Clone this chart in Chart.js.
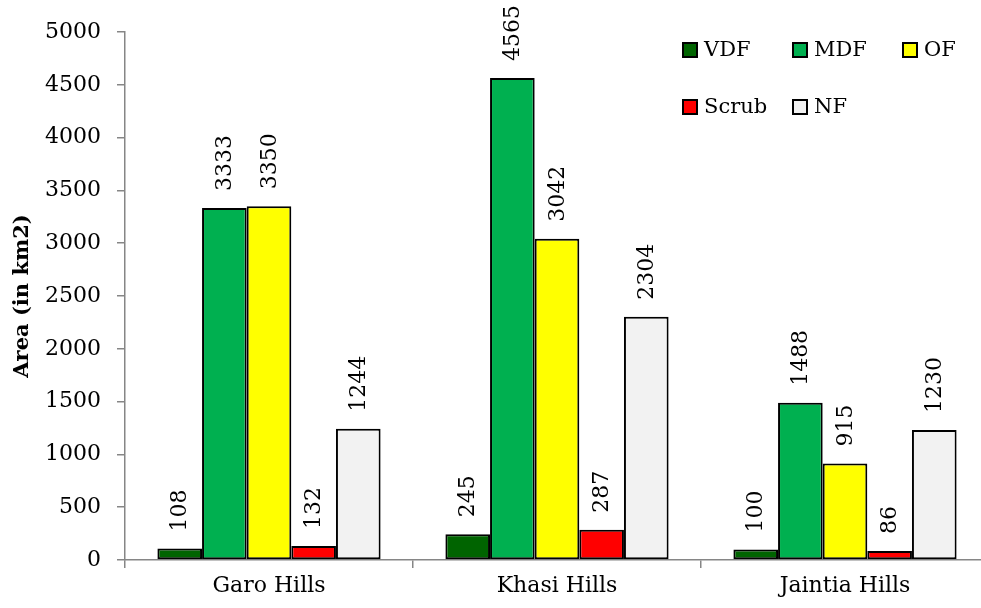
<!DOCTYPE html>
<html>
<head>
<meta charset="utf-8">
<script src="https://cdn.jsdelivr.net/npm/chart.js@4"></script>
<style>
  html, body { margin: 0; padding: 0; background: #fff; overflow: hidden; }
  #wrap { width: 990px; height: 608px; position: relative; }
</style>
</head>
<body>
<div id="wrap"><canvas id="c"></canvas></div>
<script>
// Forest cover by district group (area in km2)
const categories = ['Garo Hills', 'Khasi Hills', 'Jaintia Hills'];
const seriesNames = ['VDF', 'MDF', 'OF', 'Scrub', 'NF'];
const vdf   = [108, 245, 100];
const mdf   = [3333, 4565, 1488];
const of    = [3350, 3042, 915];
const scrub = [132, 287, 86];
const nf    = [1244, 2304, 1230];
const yTicks = [0, 500, 1000, 1500, 2000, 2500, 3000, 3500, 4000, 4500, 5000];

const seriesValues = [vdf, mdf, of, scrub, nf];
const seriesColors = ['#006400', '#00B050', '#FFFF00', '#FF0000', '#F2F2F2'];

const FONT = '"DejaVu Serif", "Liberation Serif", serif';
const AXIS = '#868686';

// Rotated value labels above each bar, plus a two-row legend in the top right
const annotate = {
  id: 'annotate',
  afterDatasetsDraw(chart) {
    const ctx = chart.ctx;
    ctx.save();
    ctx.fillStyle = '#000';
    ctx.font = '22px ' + FONT;
    ctx.textAlign = 'left';
    ctx.textBaseline = 'middle';
    chart.data.datasets.forEach((ds, di) => {
      chart.getDatasetMeta(di).data.forEach((bar, i) => {
        ctx.save();
        ctx.translate(bar.x, bar.y - 17);
        ctx.rotate(-Math.PI / 2);
        ctx.fillText(String(ds.data[i]), 0, 1);
        ctx.restore();
      });
    });

    // legend
    const slots = [[683, 50], [793, 50], [903, 50], [683, 107], [793, 107]];
    ctx.font = '21px ' + FONT;
    chart.data.datasets.forEach((ds, di) => {
      const [x, y] = slots[di];
      ctx.fillStyle = ds.backgroundColor;
      ctx.fillRect(x, y - 7, 14, 14);
      ctx.lineWidth = 2;
      ctx.strokeStyle = '#000';
      ctx.strokeRect(x, y - 7, 14, 14);
      ctx.fillStyle = '#000';
      ctx.textBaseline = 'middle';
      ctx.fillText(ds.label, x + 21, y + 1);
    });
    ctx.restore();
  }
};

new Chart(document.getElementById('c'), {
  type: 'bar',
  data: {
    labels: categories,
    datasets: seriesNames.map((name, k) => ({
      label: name,
      data: seriesValues[k],
      backgroundColor: seriesColors[k],
      borderColor: '#000',
      borderWidth: 2,
      borderSkipped: false,
      barPercentage: 1,
      categoryPercentage: 0.775
    }))
  },
  options: {
    responsive: true,
    maintainAspectRatio: false,
    animation: false,
    layout: { padding: { left: 0, right: 1, top: 32, bottom: 0 } },
    plugins: {
      legend: { display: false },
      tooltip: { enabled: false }
    },
    scales: {
      x: {
        grid: { display: true, drawOnChartArea: false, drawTicks: true, tickLength: 8, color: AXIS, lineWidth: 1.5, offset: true },
        border: { display: true, color: AXIS, width: 1.5 },
        ticks: { color: '#000', font: { family: FONT, size: 22 }, padding: 5 },
        afterFit: s => { s.height = 48; }
      },
      y: {
        min: 0,
        max: 5000,
        afterBuildTicks: s => { s.ticks = yTicks.map(v => ({ value: v })); },
        grid: { display: true, drawOnChartArea: false, drawTicks: true, tickLength: 8, color: AXIS, lineWidth: 1.5 },
        border: { display: true, color: AXIS, width: 1.5 },
        ticks: { color: '#000', font: { family: FONT, size: 22 }, padding: 16, callback: v => String(v) },
        title: {
          display: true,
          text: 'Area (in km2)',
          color: '#000',
          font: { family: FONT, size: 21, weight: 'bold' },
          padding: { top: 10, bottom: 0 }
        },
        afterFit: s => { s.width = 125; }
      }
    }
  },
  plugins: [annotate]
});
</script>
</body>
</html>
